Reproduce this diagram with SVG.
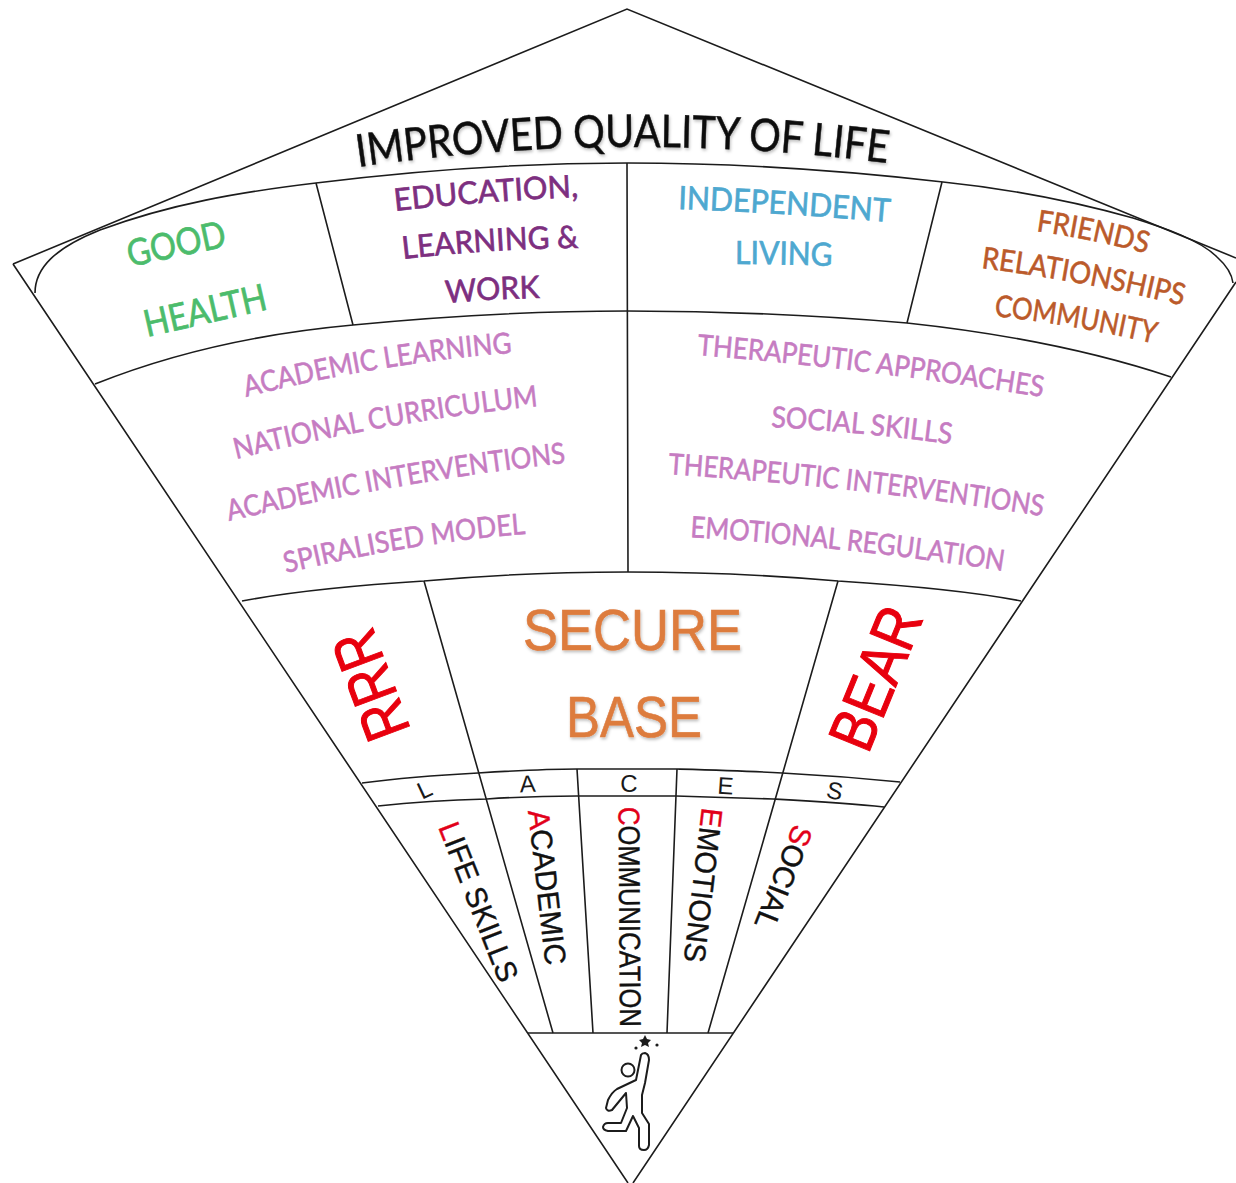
<svg xmlns="http://www.w3.org/2000/svg" width="1236" height="1183" viewBox="0 0 1236 1183">
<style>
.ln{fill:none;stroke:#1c1c1c;stroke-width:1.6}
text{font-family:"Lato","Liberation Sans",sans-serif}
.ar{font-family:"Liberation Sans",Arial,sans-serif}
.title{font-size:45px;fill:#111;stroke:#111;stroke-width:.5;filter:url(#soft)}
.green{font-size:37px;fill:#4cbc6c;stroke:#4cbc6c;stroke-width:.7}
.plum{font-size:31px;fill:#7d2f80;stroke:#7d2f80;stroke-width:.7}
.blue{font-size:32px;fill:#4ea8d0;stroke:#4ea8d0;stroke-width:.7}
.brown{font-size:30px;fill:#bb5a2a;stroke:#bb5a2a;stroke-width:.6}
.lilac{font-size:29px;fill:#c67cc2;stroke:#c67cc2;stroke-width:.6}
.orange{font-size:57px;fill:#dd7b3e;stroke:#dd7b3e;stroke-width:.6;filter:url(#soft)}
.red{font-size:64px;fill:#e8000e;stroke:#e8000e;stroke-width:1}
.small{font-size:24px;fill:#1a1a1a;text-anchor:middle}
.lace{font-size:30px;fill:#111;stroke:#111;stroke-width:.4}
.r{fill:#e2001a;stroke:#e2001a}
</style>
<defs>
<filter id="soft" x="-5%" y="-20%" width="110%" height="150%"><feDropShadow dx="1" dy="2" stdDeviation="1.5" flood-color="#000" flood-opacity="0.25"/></filter>
<path id="pTitle" d="M358,167 Q620,129 887,163"/>
<path id="pGood" d="M130,267 L228,246"/>
<path id="pHealth" d="M147,337 L270,309"/>
<path id="pEdu" d="M395,211 Q486,201 578,197"/>
<path id="pLearn" d="M403,259 Q490,249 578,248"/>
<path id="pWork" d="M446,303 Q492,299 540,298"/>
<path id="pInd" d="M678,209 Q784,213 890,222"/>
<path id="pLiv" d="M735,264 Q784,264 832,266"/>
<path id="pFri" d="M1036,231 Q1092,239 1148,254"/>
<path id="pRel" d="M981,268 Q1084,281 1184,306"/>
<path id="pCom" d="M994,316 Q1076,325 1156,344"/>
<path id="pA1" d="M246,397 Q380,363 511,353"/>
<path id="pA2" d="M236,459 Q390,421 538,406"/>
<path id="pA3" d="M229,521 Q400,481 566,463"/>
<path id="pA4" d="M286,573 Q410,543 525,534"/>
<path id="pT1" d="M697,355 Q870,369 1042,397"/>
<path id="pT2" d="M771,427 Q860,432 951,444"/>
<path id="pT3" d="M668,474 Q860,487 1042,516"/>
<path id="pT4" d="M690,537 Q850,547 1003,571"/>
</defs>

<g id="connectors">
<path class="ln" d="M13,264 L627,9 L1236,258"/>
<path class="ln" d="M13,264 L628,1183 M1236,282 L633,1183"/>
<path class="ln" d="M35,293 C35,268 55,248 100,230 C170,204 240,192 316,183 C420,170 520,163 627,163 C735,163 840,170 943,182 C1020,190 1080,203 1133,218 C1165,228 1200,240 1217,257 C1226,265 1232,275 1233,283"/>
<path class="ln" d="M95,384 C180,350 265,333 353,325 C445,316 535,311 627,311 C720,311 815,315 907,323 C1000,333 1090,350 1171,377"/>
<path class="ln" d="M242,601 C300,590 360,585 424,581 C490,575 560,572 627,572 C695,572 770,575 838,581 C900,585 965,590 1021,601"/>
<path class="ln" d="M362,783 C400,778 440,775 478,773 C510,771 545,769 577,769 C610,769 645,769 677,769 C712,770 748,771 782,773 C820,775 860,778 900,782"/>
<path class="ln" d="M378,806 C415,802 450,800 487,799 C517,797 547,796 577,796 C610,796 645,796 676,796 C708,797 742,798 773,799 C810,801 848,803 884,807"/>
<path class="ln" d="M528,1033 L733,1033"/>
<path class="ln" d="M316,183 L353,325 M942,182 L907,323 M627,163 L628,572"/>
<path class="ln" d="M424,581 L553,1033 M838,581 L708,1033 M577,769 L593,1033 M677,769 L667,1033"/>
</g>

<g id="title"><text class="title"><textPath href="#pTitle" textLength="531" lengthAdjust="spacingAndGlyphs">IMPROVED QUALITY OF LIFE</textPath></text></g>

<g id="good-health">
<text class="green"><textPath href="#pGood" textLength="100" lengthAdjust="spacingAndGlyphs">GOOD</textPath></text>
<text class="green"><textPath href="#pHealth" textLength="125" lengthAdjust="spacingAndGlyphs">HEALTH</textPath></text>
</g>
<g id="education">
<text class="plum"><textPath href="#pEdu" textLength="184" lengthAdjust="spacingAndGlyphs">EDUCATION,</textPath></text>
<text class="plum"><textPath href="#pLearn" textLength="176" lengthAdjust="spacingAndGlyphs">LEARNING &amp;</textPath></text>
<text class="plum"><textPath href="#pWork" textLength="94" lengthAdjust="spacingAndGlyphs">WORK</textPath></text>
</g>
<g id="independent">
<text class="blue"><textPath href="#pInd" textLength="212" lengthAdjust="spacingAndGlyphs">INDEPENDENT</textPath></text>
<text class="blue"><textPath href="#pLiv" textLength="97" lengthAdjust="spacingAndGlyphs">LIVING</textPath></text>
</g>
<g id="friends">
<text class="brown"><textPath href="#pFri" textLength="113" lengthAdjust="spacingAndGlyphs">FRIENDS</textPath></text>
<text class="brown"><textPath href="#pRel" textLength="205" lengthAdjust="spacingAndGlyphs">RELATIONSHIPS</textPath></text>
<text class="brown"><textPath href="#pCom" textLength="163" lengthAdjust="spacingAndGlyphs">COMMUNITY</textPath></text>
</g>
<g id="academic-list">
<text class="lilac"><textPath href="#pA1" textLength="270" lengthAdjust="spacingAndGlyphs">ACADEMIC LEARNING</textPath></text>
<text class="lilac"><textPath href="#pA2" textLength="307" lengthAdjust="spacingAndGlyphs">NATIONAL CURRICULUM</textPath></text>
<text class="lilac"><textPath href="#pA3" textLength="342" lengthAdjust="spacingAndGlyphs">ACADEMIC INTERVENTIONS</textPath></text>
<text class="lilac"><textPath href="#pA4" textLength="243" lengthAdjust="spacingAndGlyphs">SPIRALISED MODEL</textPath></text>
</g>
<g id="therapeutic-list">
<text class="lilac"><textPath href="#pT1" textLength="348" lengthAdjust="spacingAndGlyphs">THERAPEUTIC APPROACHES</textPath></text>
<text class="lilac"><textPath href="#pT2" textLength="181" lengthAdjust="spacingAndGlyphs">SOCIAL SKILLS</textPath></text>
<text class="lilac"><textPath href="#pT3" textLength="377" lengthAdjust="spacingAndGlyphs">THERAPEUTIC INTERVENTIONS</textPath></text>
<text class="lilac"><textPath href="#pT4" textLength="315" lengthAdjust="spacingAndGlyphs">EMOTIONAL REGULATION</textPath></text>
</g>
<g id="rrr"><text class="ar red" transform="translate(411,730) rotate(-110.5)" textLength="112" lengthAdjust="spacingAndGlyphs">RRR</text></g>
<g id="secure-base">
<text class="ar orange" x="523" y="650" textLength="219" lengthAdjust="spacingAndGlyphs">SECURE</text>
<text class="ar orange" x="566" y="737" textLength="136" lengthAdjust="spacingAndGlyphs">BASE</text>
</g>
<g id="bear"><text class="ar red" transform="translate(868,755) rotate(-67.8)" textLength="148" lengthAdjust="spacingAndGlyphs">BEAR</text></g>

<g id="lace-letters">
<text class="ar small" transform="translate(428,797) rotate(-25)">L</text>
<text class="ar small" transform="translate(528,792) rotate(-3)">A</text>
<text class="ar small" transform="translate(629,792)">C</text>
<text class="ar small" transform="translate(725,794) rotate(4)">E</text>
<text class="ar small" transform="translate(833,799) rotate(12)">S</text>
</g>
<g id="life-skills"><text class="ar lace" transform="translate(438,827) rotate(68.5)" textLength="169" lengthAdjust="spacingAndGlyphs"><tspan class="r">L</tspan>IFE SKILLS</text></g>
<g id="academic"><text class="ar lace" transform="translate(528,811) rotate(83.5)" textLength="156" lengthAdjust="spacingAndGlyphs"><tspan class="r">A</tspan>CADEMIC</text></g>
<g id="communication"><text class="ar lace" transform="translate(618.5,807) rotate(89.6)" textLength="220" lengthAdjust="spacingAndGlyphs"><tspan class="r">C</tspan>OMMUNICATION</text></g>
<g id="emotions"><text class="ar lace" transform="translate(702,807) rotate(96.8)" textLength="155" lengthAdjust="spacingAndGlyphs"><tspan class="r">E</tspan>MOTIONS</text></g>
<g id="social"><text class="ar lace" transform="translate(794,823) rotate(111.5)" textLength="109" lengthAdjust="spacingAndGlyphs"><tspan class="r">S</tspan>OCIAL</text></g>

<g id="runner">
<circle cx="628" cy="1070" r="6.5" fill="none" stroke="#1c1c1c" stroke-width="2"/>
<path fill="#fff" stroke="#1c1c1c" stroke-width="2" stroke-linejoin="round" d="M645,1053 Q649,1054 649,1060 L645,1083 L642,1095 L642,1113 L649,1124 L649,1145 Q648,1150 644,1150 Q639,1150 639,1146 L639,1128 L633,1116 L626,1131 L608,1131 Q603,1130 603,1127 Q604,1123 608,1123 L621,1123 L627,1108 L626,1093 L612,1110 Q607,1112 606,1108 L608,1100 Q612,1092 617,1089 L636,1080 L640,1060 L641,1055 Q642,1053 645,1053 Z"/>
<path fill="#1c1c1c" d="M645,1035 L647,1039 L651,1040 L648,1043 L649,1047 L645,1045 L641,1047 L642,1043 L639,1040 L643,1039 Z"/>
<circle cx="636" cy="1048" r="1.6" fill="#1c1c1c"/>
<circle cx="657" cy="1045" r="1.6" fill="#1c1c1c"/>
</g>
</svg>
